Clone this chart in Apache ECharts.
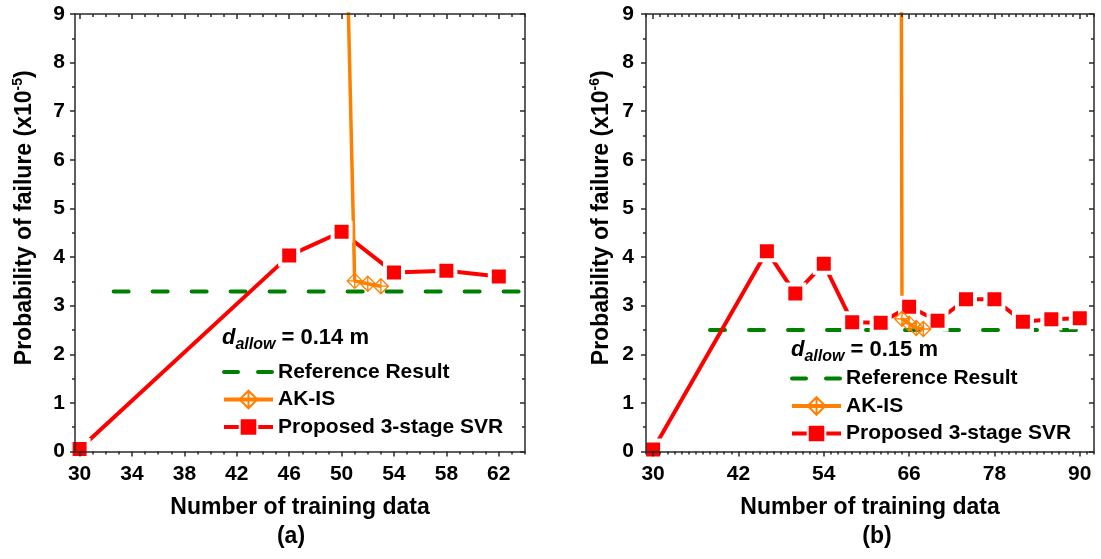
<!DOCTYPE html>
<html><head><meta charset="utf-8">
<script src="https://cdn.jsdelivr.net/npm/echarts@6/dist/echarts.min.js"></script>
<style>html,body{margin:0;padding:0;background:#fff}#c{width:1101px;height:559px}</style>
</head><body><div id="c"></div>
<script>
const FONT = '"Liberation Sans", Arial, Helvetica, sans-serif';

// ---------- Panel (a) ----------
const xTickLabelsA = [30, 34, 38, 42, 46, 50, 54, 58, 62];
const svrXA = [30, 46, 50, 54, 58, 62];
const svrYA = [0.05, 4.03, 4.52, 3.68, 3.72, 3.60];
const akisXA = [50, 51, 52, 53];
const akisYA = [15, 3.51, 3.45, 3.40];
const refXA = [32.6, 64];
const refYA = [3.29, 3.29];

// ---------- Panel (b) ----------
const xTickLabelsB = [30, 42, 54, 66, 78, 90];
const svrXB = [30, 46, 50, 54, 58, 62, 66, 70, 74, 78, 82, 86, 90];
const svrYB = [0.04, 4.12, 3.25, 3.86, 2.66, 2.65, 2.98, 2.69, 3.13, 3.13, 2.67, 2.72, 2.74];
const akisXB = [64, 65, 66, 67, 68];
const akisYB = [80, 2.73, 2.63, 2.54, 2.52];
const refXB = [38, 90];
const refYB = [2.5, 2.5];

const yTickLabels = [0, 1, 2, 3, 4, 5, 6, 7, 8, 9];
const legendNames = ['Reference Result', 'AK-IS', 'Proposed 3-stage SVR'];

function minorTicks(from, to, majors) {
  const out = [];
  for (let v = from; v <= to; v++) if (majors.indexOf(v) < 0) out.push(v);
  return out;
}
const pts = (xs, ys) => xs.map((x, i) => [x, ys[i]]);

const AX = '#2a2a2a';
const ls = () => ({ color: AX, width: 1.5 });
const lineOn = () => ({ show: true, onZero: false, lineStyle: { color: AX, width: 1.5 } });
const lineOff = () => ({ show: false, onZero: false });
const titleStyle = () => ({ fontSize: 23, fontWeight: 'bold', fontFamily: FONT, color: '#000' });
const labelStyle = () => ({ fontSize: 21, fontWeight: 'bold', fontFamily: FONT, color: '#000' });

function tickAxis(gridIndex, min, max, position, values, length, inside) {
  return { type: 'value', gridIndex, min, max, splitLine: { show: false }, position, axisLine: lineOff(), z: 5,
    axisTick: { show: true, customValues: values, length, inside, lineStyle: ls() },
    axisLabel: { show: false } };
}

function xAxes(gridIndex, min, max, majors, minors) {
  return [
    { type: 'value', gridIndex, min, max, splitLine: { show: false }, position: 'bottom', axisLine: lineOn(), z: 5,
      axisTick: { show: false },
      axisLabel: Object.assign({ show: true, customValues: majors, margin: 12 }, labelStyle()),
      name: 'Number of training data', nameLocation: 'middle', nameGap: 45, nameTextStyle: titleStyle() },
    tickAxis(gridIndex, min, max, 'bottom', majors, 5, false),
    tickAxis(gridIndex, min, max, 'bottom', minors, 3, false),
    { type: 'value', gridIndex, min, max, splitLine: { show: false }, position: 'top', axisLine: lineOn(), z: 5,
      axisTick: { show: true, customValues: majors, length: 5, inside: true, lineStyle: ls() },
      axisLabel: { show: false } },
    tickAxis(gridIndex, min, max, 'top', minors, 3, true)
  ];
}

function yAxes(gridIndex, name, nameGap, margin) {
  return [
    { type: 'value', gridIndex, min: 0, max: 9, interval: 1, splitLine: { show: false }, position: 'left', axisLine: lineOn(), z: 5,
      axisTick: { show: true, length: 5, inside: false, lineStyle: ls() },
      minorTick: { show: true, splitNumber: 2, length: 3, lineStyle: ls() },
      axisLabel: Object.assign({ customValues: yTickLabels, margin }, labelStyle()),
      name, nameLocation: 'middle', nameGap,
      nameTextStyle: Object.assign(titleStyle(), { lineHeight: 28, padding: [0, 0, 0, 30],
        rich: { sup: { fontSize: 14, fontWeight: 'bold', fontFamily: FONT, color: '#000', verticalAlign: 'top', lineHeight: 14 } } }) },
    { type: 'value', gridIndex, min: 0, max: 9, interval: 1, splitLine: { show: false }, position: 'right', axisLine: lineOn(), z: 5,
      axisTick: { show: true, length: 5, inside: true, lineStyle: ls() },
      minorTick: { show: true, splitNumber: 2, length: 3, lineStyle: ls() },
      axisLabel: { show: false } }
  ];
}

const diamond = 'path://M10,0 L20,10 L10,20 L0,10 Z M10,0 L10,20 M0,10 L20,10';

function seriesFor(xi, yi, ref, svr, akis) {
  return [
    { name: 'Reference Result', type: 'line', xAxisIndex: xi, yAxisIndex: yi, data: ref,
      symbol: 'none', silent: true, lineStyle: { color: '#008000', width: 4, type: [15, 24], cap: 'round' },
      itemStyle: { color: '#008000' } },
    { name: 'Proposed 3-stage SVR', type: 'line', xAxisIndex: xi, yAxisIndex: yi, data: svr,
      symbol: 'rect', symbolSize: 18, silent: true,
      lineStyle: { color: '#ff0000', width: 4 },
      itemStyle: { color: '#ff0000', borderColor: '#ffffff', borderWidth: 4 } },
    { name: 'AK-IS', type: 'line', xAxisIndex: xi, yAxisIndex: yi, data: akis,
      symbol: diamond, symbolSize: 15, silent: true,
      lineStyle: { color: '#ff8000', width: 3.5 },
      itemStyle: { color: 'rgba(255,255,255,0)', borderColor: '#ff8000', borderWidth: 1.3 } }
  ];
}

function legendFor(left, top) {
  return { show: true, orient: 'vertical', left, top, padding: 0, itemWidth: 49, itemHeight: 22, itemGap: 6.5,
    selectedMode: false,
    lineStyle: { width: 4 },
    textStyle: { fontSize: 21, fontWeight: 'bold', fontFamily: FONT, color: '#000' },
    data: [
      { name: legendNames[0], itemStyle: { opacity: 0 }, lineStyle: { type: [14, 20], width: 4 } },
      { name: legendNames[1] },
      { name: legendNames[2] }
    ] };
}

function dLabel(x, y, valueText) {
  return { type: 'text', x, y, z: 10, silent: true,
    style: { text: '{d|d}{s|allow}{n| = ' + valueText + '}', verticalAlign: 'middle', align: 'left',
      rich: {
        d: { fontSize: 22, fontStyle: 'italic', fontWeight: 'bold', fontFamily: FONT, fill: '#000', lineHeight: 30 },
        s: { fontSize: 16, fontStyle: 'italic', fontWeight: 'bold', fontFamily: FONT, fill: '#000', lineHeight: 16, verticalAlign: 'bottom' },
        n: { fontSize: 22, fontWeight: 'bold', fontFamily: FONT, fill: '#000', lineHeight: 30 }
      } } };
}

const option = {
  animation: false,
  backgroundColor: '#ffffff',
  grid: [
    { left: 75, top: 14, width: 450, height: 437.5 },
    { left: 646, top: 14, width: 448, height: 437.5 }
  ],
  xAxis: [].concat(
    xAxes(0, 29.65, 64, xTickLabelsA, minorTicks(30, 64, xTickLabelsA)),
    xAxes(1, 29, 92, xTickLabelsB, minorTicks(29, 92, xTickLabelsB))
  ),
  yAxis: [].concat(
    yAxes(0, 'Probability of failure (x10{sup|-5})', 36, 10),
    yAxes(1, 'Probability of failure (x10{sup|-6})', 30, 12)
  ),
  legend: [legendFor(222, 361.5), legendFor(790, 368)],
  series: [].concat(
    seriesFor(0, 0, pts(refXA, refYA), pts(svrXA, svrYA), pts(akisXA, akisYA)),
    seriesFor(5, 2, pts(refXB, refYB), pts(svrXB, svrYB), pts(akisXB, akisYB))
  ),
  graphic: [
    dLabel(222, 338, '0.14 m'),
    dLabel(791, 350, '0.15 m'),
    { type: 'text', x: 291, y: 537, silent: true, style: { text: '(a)', align: 'center', verticalAlign: 'middle', fontSize: 23, fontWeight: 'bold', fontFamily: FONT, fill: '#000' } },
    { type: 'text', x: 877, y: 537, silent: true, style: { text: '(b)', align: 'center', verticalAlign: 'middle', fontSize: 23, fontWeight: 'bold', fontFamily: FONT, fill: '#000' } }
  ]
};

const chart = echarts.init(document.getElementById('c'));
chart.setOption(option);
</script>
</body></html>
